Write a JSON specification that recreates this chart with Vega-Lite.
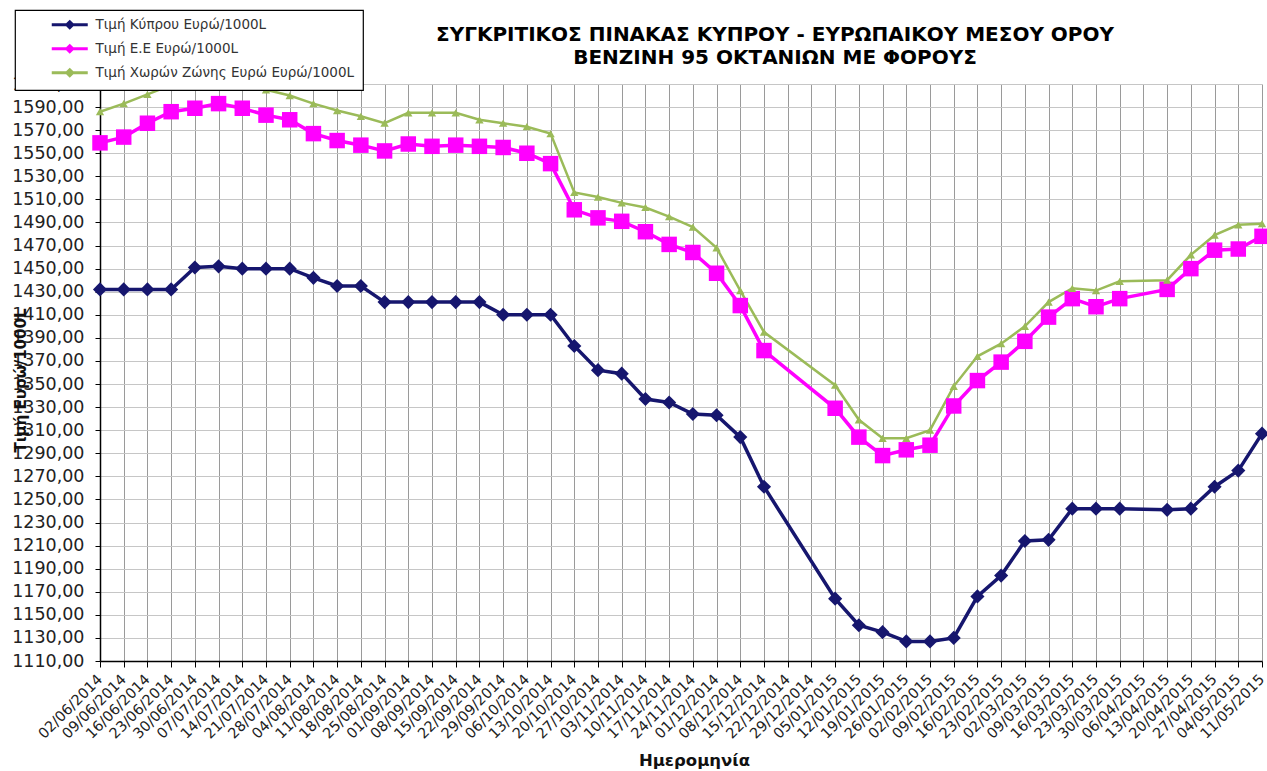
{
  "$schema": "https://vega.github.io/schema/vega-lite/v6.json",
  "width": 1162,
  "height": 577,
  "autosize": {"type": "none"},
  "padding": {"left": 100, "top": 84, "right": 5, "bottom": 110},
  "background": "white",
  "config": {"view": {"stroke": null}, "font": "DejaVu Sans"},
  "title": {
    "text": "ΣΥΓΚΡΙΤΙΚΟΣ ΠΙΝΑΚΑΣ ΚΥΠΡΟΥ - ΕΥΡΩΠΑΙΚΟΥ ΜΕΣΟΥ ΟΡΟΥ",
    "subtitle": "ΒΕΝΖΙΝΗ 95 ΟΚΤΑΝΙΩΝ ΜΕ ΦΟΡΟΥΣ",
    "anchor": "middle",
    "frame": "group",
    "dx": 94,
    "dy": 77,
    "offset": 18,
    "font": "DejaVu Sans",
    "fontSize": 20,
    "fontWeight": "bold",
    "color": "#000000",
    "subtitleFont": "DejaVu Sans",
    "subtitleFontSize": 20,
    "subtitleFontWeight": "bold",
    "subtitleColor": "#000000",
    "subtitlePadding": 3
  },
  "data": {
    "values": [
      {"date": "2014-06-02", "series": "Τιμή Κύπρου Ευρώ/1000L", "value": 1432},
      {"date": "2014-06-09", "series": "Τιμή Κύπρου Ευρώ/1000L", "value": 1432},
      {"date": "2014-06-16", "series": "Τιμή Κύπρου Ευρώ/1000L", "value": 1432},
      {"date": "2014-06-23", "series": "Τιμή Κύπρου Ευρώ/1000L", "value": 1432},
      {"date": "2014-06-30", "series": "Τιμή Κύπρου Ευρώ/1000L", "value": 1451},
      {"date": "2014-07-07", "series": "Τιμή Κύπρου Ευρώ/1000L", "value": 1452},
      {"date": "2014-07-14", "series": "Τιμή Κύπρου Ευρώ/1000L", "value": 1450},
      {"date": "2014-07-21", "series": "Τιμή Κύπρου Ευρώ/1000L", "value": 1450},
      {"date": "2014-07-28", "series": "Τιμή Κύπρου Ευρώ/1000L", "value": 1450},
      {"date": "2014-08-04", "series": "Τιμή Κύπρου Ευρώ/1000L", "value": 1442},
      {"date": "2014-08-11", "series": "Τιμή Κύπρου Ευρώ/1000L", "value": 1435},
      {"date": "2014-08-18", "series": "Τιμή Κύπρου Ευρώ/1000L", "value": 1435},
      {"date": "2014-08-25", "series": "Τιμή Κύπρου Ευρώ/1000L", "value": 1421},
      {"date": "2014-09-01", "series": "Τιμή Κύπρου Ευρώ/1000L", "value": 1421},
      {"date": "2014-09-08", "series": "Τιμή Κύπρου Ευρώ/1000L", "value": 1421},
      {"date": "2014-09-15", "series": "Τιμή Κύπρου Ευρώ/1000L", "value": 1421},
      {"date": "2014-09-22", "series": "Τιμή Κύπρου Ευρώ/1000L", "value": 1421},
      {"date": "2014-09-29", "series": "Τιμή Κύπρου Ευρώ/1000L", "value": 1410},
      {"date": "2014-10-06", "series": "Τιμή Κύπρου Ευρώ/1000L", "value": 1410},
      {"date": "2014-10-13", "series": "Τιμή Κύπρου Ευρώ/1000L", "value": 1410},
      {"date": "2014-10-20", "series": "Τιμή Κύπρου Ευρώ/1000L", "value": 1383},
      {"date": "2014-10-27", "series": "Τιμή Κύπρου Ευρώ/1000L", "value": 1362},
      {"date": "2014-11-03", "series": "Τιμή Κύπρου Ευρώ/1000L", "value": 1359},
      {"date": "2014-11-10", "series": "Τιμή Κύπρου Ευρώ/1000L", "value": 1337},
      {"date": "2014-11-17", "series": "Τιμή Κύπρου Ευρώ/1000L", "value": 1334},
      {"date": "2014-11-24", "series": "Τιμή Κύπρου Ευρώ/1000L", "value": 1324},
      {"date": "2014-12-01", "series": "Τιμή Κύπρου Ευρώ/1000L", "value": 1323},
      {"date": "2014-12-08", "series": "Τιμή Κύπρου Ευρώ/1000L", "value": 1304},
      {"date": "2014-12-15", "series": "Τιμή Κύπρου Ευρώ/1000L", "value": 1261},
      {"date": "2015-01-05", "series": "Τιμή Κύπρου Ευρώ/1000L", "value": 1164},
      {"date": "2015-01-12", "series": "Τιμή Κύπρου Ευρώ/1000L", "value": 1141},
      {"date": "2015-01-19", "series": "Τιμή Κύπρου Ευρώ/1000L", "value": 1135},
      {"date": "2015-01-26", "series": "Τιμή Κύπρου Ευρώ/1000L", "value": 1127},
      {"date": "2015-02-02", "series": "Τιμή Κύπρου Ευρώ/1000L", "value": 1127},
      {"date": "2015-02-09", "series": "Τιμή Κύπρου Ευρώ/1000L", "value": 1130},
      {"date": "2015-02-16", "series": "Τιμή Κύπρου Ευρώ/1000L", "value": 1166},
      {"date": "2015-02-23", "series": "Τιμή Κύπρου Ευρώ/1000L", "value": 1184},
      {"date": "2015-03-02", "series": "Τιμή Κύπρου Ευρώ/1000L", "value": 1214},
      {"date": "2015-03-09", "series": "Τιμή Κύπρου Ευρώ/1000L", "value": 1215},
      {"date": "2015-03-16", "series": "Τιμή Κύπρου Ευρώ/1000L", "value": 1242},
      {"date": "2015-03-23", "series": "Τιμή Κύπρου Ευρώ/1000L", "value": 1242},
      {"date": "2015-03-30", "series": "Τιμή Κύπρου Ευρώ/1000L", "value": 1242},
      {"date": "2015-04-13", "series": "Τιμή Κύπρου Ευρώ/1000L", "value": 1241},
      {"date": "2015-04-20", "series": "Τιμή Κύπρου Ευρώ/1000L", "value": 1242},
      {"date": "2015-04-27", "series": "Τιμή Κύπρου Ευρώ/1000L", "value": 1261},
      {"date": "2015-05-04", "series": "Τιμή Κύπρου Ευρώ/1000L", "value": 1275},
      {"date": "2015-05-11", "series": "Τιμή Κύπρου Ευρώ/1000L", "value": 1307},
      {"date": "2014-06-02", "series": "Τιμή Ε.Ε Ευρώ/1000L", "value": 1559},
      {"date": "2014-06-09", "series": "Τιμή Ε.Ε Ευρώ/1000L", "value": 1564},
      {"date": "2014-06-16", "series": "Τιμή Ε.Ε Ευρώ/1000L", "value": 1576},
      {"date": "2014-06-23", "series": "Τιμή Ε.Ε Ευρώ/1000L", "value": 1586},
      {"date": "2014-06-30", "series": "Τιμή Ε.Ε Ευρώ/1000L", "value": 1589},
      {"date": "2014-07-07", "series": "Τιμή Ε.Ε Ευρώ/1000L", "value": 1593},
      {"date": "2014-07-14", "series": "Τιμή Ε.Ε Ευρώ/1000L", "value": 1589},
      {"date": "2014-07-21", "series": "Τιμή Ε.Ε Ευρώ/1000L", "value": 1583},
      {"date": "2014-07-28", "series": "Τιμή Ε.Ε Ευρώ/1000L", "value": 1579},
      {"date": "2014-08-04", "series": "Τιμή Ε.Ε Ευρώ/1000L", "value": 1567},
      {"date": "2014-08-11", "series": "Τιμή Ε.Ε Ευρώ/1000L", "value": 1561},
      {"date": "2014-08-18", "series": "Τιμή Ε.Ε Ευρώ/1000L", "value": 1557},
      {"date": "2014-08-25", "series": "Τιμή Ε.Ε Ευρώ/1000L", "value": 1552},
      {"date": "2014-09-01", "series": "Τιμή Ε.Ε Ευρώ/1000L", "value": 1558},
      {"date": "2014-09-08", "series": "Τιμή Ε.Ε Ευρώ/1000L", "value": 1556},
      {"date": "2014-09-15", "series": "Τιμή Ε.Ε Ευρώ/1000L", "value": 1557},
      {"date": "2014-09-22", "series": "Τιμή Ε.Ε Ευρώ/1000L", "value": 1556},
      {"date": "2014-09-29", "series": "Τιμή Ε.Ε Ευρώ/1000L", "value": 1555},
      {"date": "2014-10-06", "series": "Τιμή Ε.Ε Ευρώ/1000L", "value": 1550},
      {"date": "2014-10-13", "series": "Τιμή Ε.Ε Ευρώ/1000L", "value": 1541},
      {"date": "2014-10-20", "series": "Τιμή Ε.Ε Ευρώ/1000L", "value": 1501},
      {"date": "2014-10-27", "series": "Τιμή Ε.Ε Ευρώ/1000L", "value": 1494},
      {"date": "2014-11-03", "series": "Τιμή Ε.Ε Ευρώ/1000L", "value": 1491},
      {"date": "2014-11-10", "series": "Τιμή Ε.Ε Ευρώ/1000L", "value": 1482},
      {"date": "2014-11-17", "series": "Τιμή Ε.Ε Ευρώ/1000L", "value": 1471},
      {"date": "2014-11-24", "series": "Τιμή Ε.Ε Ευρώ/1000L", "value": 1464},
      {"date": "2014-12-01", "series": "Τιμή Ε.Ε Ευρώ/1000L", "value": 1446},
      {"date": "2014-12-08", "series": "Τιμή Ε.Ε Ευρώ/1000L", "value": 1418},
      {"date": "2014-12-15", "series": "Τιμή Ε.Ε Ευρώ/1000L", "value": 1379},
      {"date": "2015-01-05", "series": "Τιμή Ε.Ε Ευρώ/1000L", "value": 1329},
      {"date": "2015-01-12", "series": "Τιμή Ε.Ε Ευρώ/1000L", "value": 1304},
      {"date": "2015-01-19", "series": "Τιμή Ε.Ε Ευρώ/1000L", "value": 1288},
      {"date": "2015-01-26", "series": "Τιμή Ε.Ε Ευρώ/1000L", "value": 1293},
      {"date": "2015-02-02", "series": "Τιμή Ε.Ε Ευρώ/1000L", "value": 1297},
      {"date": "2015-02-09", "series": "Τιμή Ε.Ε Ευρώ/1000L", "value": 1331},
      {"date": "2015-02-16", "series": "Τιμή Ε.Ε Ευρώ/1000L", "value": 1353},
      {"date": "2015-02-23", "series": "Τιμή Ε.Ε Ευρώ/1000L", "value": 1369},
      {"date": "2015-03-02", "series": "Τιμή Ε.Ε Ευρώ/1000L", "value": 1387},
      {"date": "2015-03-09", "series": "Τιμή Ε.Ε Ευρώ/1000L", "value": 1408},
      {"date": "2015-03-16", "series": "Τιμή Ε.Ε Ευρώ/1000L", "value": 1424},
      {"date": "2015-03-23", "series": "Τιμή Ε.Ε Ευρώ/1000L", "value": 1417},
      {"date": "2015-03-30", "series": "Τιμή Ε.Ε Ευρώ/1000L", "value": 1424},
      {"date": "2015-04-13", "series": "Τιμή Ε.Ε Ευρώ/1000L", "value": 1432},
      {"date": "2015-04-20", "series": "Τιμή Ε.Ε Ευρώ/1000L", "value": 1450},
      {"date": "2015-04-27", "series": "Τιμή Ε.Ε Ευρώ/1000L", "value": 1466},
      {"date": "2015-05-04", "series": "Τιμή Ε.Ε Ευρώ/1000L", "value": 1467},
      {"date": "2015-05-11", "series": "Τιμή Ε.Ε Ευρώ/1000L", "value": 1478},
      {"date": "2014-06-02", "series": "Τιμή Χωρών Ζώνης Ευρώ Ευρώ/1000L", "value": 1586},
      {"date": "2014-06-09", "series": "Τιμή Χωρών Ζώνης Ευρώ Ευρώ/1000L", "value": 1593},
      {"date": "2014-06-16", "series": "Τιμή Χωρών Ζώνης Ευρώ Ευρώ/1000L", "value": 1601},
      {"date": "2014-06-23", "series": "Τιμή Χωρών Ζώνης Ευρώ Ευρώ/1000L", "value": 1609},
      {"date": "2014-06-30", "series": "Τιμή Χωρών Ζώνης Ευρώ Ευρώ/1000L", "value": 1612},
      {"date": "2014-07-07", "series": "Τιμή Χωρών Ζώνης Ευρώ Ευρώ/1000L", "value": 1614},
      {"date": "2014-07-14", "series": "Τιμή Χωρών Ζώνης Ευρώ Ευρώ/1000L", "value": 1610},
      {"date": "2014-07-21", "series": "Τιμή Χωρών Ζώνης Ευρώ Ευρώ/1000L", "value": 1605},
      {"date": "2014-07-28", "series": "Τιμή Χωρών Ζώνης Ευρώ Ευρώ/1000L", "value": 1600},
      {"date": "2014-08-04", "series": "Τιμή Χωρών Ζώνης Ευρώ Ευρώ/1000L", "value": 1593},
      {"date": "2014-08-11", "series": "Τιμή Χωρών Ζώνης Ευρώ Ευρώ/1000L", "value": 1587},
      {"date": "2014-08-18", "series": "Τιμή Χωρών Ζώνης Ευρώ Ευρώ/1000L", "value": 1582},
      {"date": "2014-08-25", "series": "Τιμή Χωρών Ζώνης Ευρώ Ευρώ/1000L", "value": 1576},
      {"date": "2014-09-01", "series": "Τιμή Χωρών Ζώνης Ευρώ Ευρώ/1000L", "value": 1585},
      {"date": "2014-09-08", "series": "Τιμή Χωρών Ζώνης Ευρώ Ευρώ/1000L", "value": 1585},
      {"date": "2014-09-15", "series": "Τιμή Χωρών Ζώνης Ευρώ Ευρώ/1000L", "value": 1585},
      {"date": "2014-09-22", "series": "Τιμή Χωρών Ζώνης Ευρώ Ευρώ/1000L", "value": 1579},
      {"date": "2014-09-29", "series": "Τιμή Χωρών Ζώνης Ευρώ Ευρώ/1000L", "value": 1576},
      {"date": "2014-10-06", "series": "Τιμή Χωρών Ζώνης Ευρώ Ευρώ/1000L", "value": 1573},
      {"date": "2014-10-13", "series": "Τιμή Χωρών Ζώνης Ευρώ Ευρώ/1000L", "value": 1567},
      {"date": "2014-10-20", "series": "Τιμή Χωρών Ζώνης Ευρώ Ευρώ/1000L", "value": 1516},
      {"date": "2014-10-27", "series": "Τιμή Χωρών Ζώνης Ευρώ Ευρώ/1000L", "value": 1512},
      {"date": "2014-11-03", "series": "Τιμή Χωρών Ζώνης Ευρώ Ευρώ/1000L", "value": 1507},
      {"date": "2014-11-10", "series": "Τιμή Χωρών Ζώνης Ευρώ Ευρώ/1000L", "value": 1503},
      {"date": "2014-11-17", "series": "Τιμή Χωρών Ζώνης Ευρώ Ευρώ/1000L", "value": 1495},
      {"date": "2014-11-24", "series": "Τιμή Χωρών Ζώνης Ευρώ Ευρώ/1000L", "value": 1486},
      {"date": "2014-12-01", "series": "Τιμή Χωρών Ζώνης Ευρώ Ευρώ/1000L", "value": 1468},
      {"date": "2014-12-08", "series": "Τιμή Χωρών Ζώνης Ευρώ Ευρώ/1000L", "value": 1431},
      {"date": "2014-12-15", "series": "Τιμή Χωρών Ζώνης Ευρώ Ευρώ/1000L", "value": 1395},
      {"date": "2015-01-05", "series": "Τιμή Χωρών Ζώνης Ευρώ Ευρώ/1000L", "value": 1349},
      {"date": "2015-01-12", "series": "Τιμή Χωρών Ζώνης Ευρώ Ευρώ/1000L", "value": 1319},
      {"date": "2015-01-19", "series": "Τιμή Χωρών Ζώνης Ευρώ Ευρώ/1000L", "value": 1303},
      {"date": "2015-01-26", "series": "Τιμή Χωρών Ζώνης Ευρώ Ευρώ/1000L", "value": 1303},
      {"date": "2015-02-02", "series": "Τιμή Χωρών Ζώνης Ευρώ Ευρώ/1000L", "value": 1310},
      {"date": "2015-02-09", "series": "Τιμή Χωρών Ζώνης Ευρώ Ευρώ/1000L", "value": 1348},
      {"date": "2015-02-16", "series": "Τιμή Χωρών Ζώνης Ευρώ Ευρώ/1000L", "value": 1374},
      {"date": "2015-02-23", "series": "Τιμή Χωρών Ζώνης Ευρώ Ευρώ/1000L", "value": 1385},
      {"date": "2015-03-02", "series": "Τιμή Χωρών Ζώνης Ευρώ Ευρώ/1000L", "value": 1400},
      {"date": "2015-03-09", "series": "Τιμή Χωρών Ζώνης Ευρώ Ευρώ/1000L", "value": 1421},
      {"date": "2015-03-16", "series": "Τιμή Χωρών Ζώνης Ευρώ Ευρώ/1000L", "value": 1433},
      {"date": "2015-03-23", "series": "Τιμή Χωρών Ζώνης Ευρώ Ευρώ/1000L", "value": 1431},
      {"date": "2015-03-30", "series": "Τιμή Χωρών Ζώνης Ευρώ Ευρώ/1000L", "value": 1439},
      {"date": "2015-04-13", "series": "Τιμή Χωρών Ζώνης Ευρώ Ευρώ/1000L", "value": 1440},
      {"date": "2015-04-20", "series": "Τιμή Χωρών Ζώνης Ευρώ Ευρώ/1000L", "value": 1462},
      {"date": "2015-04-27", "series": "Τιμή Χωρών Ζώνης Ευρώ Ευρώ/1000L", "value": 1479},
      {"date": "2015-05-04", "series": "Τιμή Χωρών Ζώνης Ευρώ Ευρώ/1000L", "value": 1488},
      {"date": "2015-05-11", "series": "Τιμή Χωρών Ζώνης Ευρώ Ευρώ/1000L", "value": 1489}
    ]
  },
  "encoding": {
    "x": {
      "field": "date",
      "type": "temporal",
      "scale": {
        "type": "utc",
        "nice": false,
        "domain": [
          {"year": 2014, "month": 6, "date": 2, "utc": true},
          {"year": 2015, "month": 5, "date": 11, "utc": true}
        ]
      },
      "axis": {
        "title": "Ημερομηνία",
        "titleFont": "DejaVu Sans",
        "titleFontSize": 16.5,
        "titleFontWeight": "bold",
        "titleColor": "#111111",
        "titleX": 594,
        "titleY": 99,
        "titleAlign": "center",
        "titleBaseline": "middle",
        "values": [
          {"year": 2014, "month": 6, "date": 2, "utc": true},
          {"year": 2014, "month": 6, "date": 9, "utc": true},
          {"year": 2014, "month": 6, "date": 16, "utc": true},
          {"year": 2014, "month": 6, "date": 23, "utc": true},
          {"year": 2014, "month": 6, "date": 30, "utc": true},
          {"year": 2014, "month": 7, "date": 7, "utc": true},
          {"year": 2014, "month": 7, "date": 14, "utc": true},
          {"year": 2014, "month": 7, "date": 21, "utc": true},
          {"year": 2014, "month": 7, "date": 28, "utc": true},
          {"year": 2014, "month": 8, "date": 4, "utc": true},
          {"year": 2014, "month": 8, "date": 11, "utc": true},
          {"year": 2014, "month": 8, "date": 18, "utc": true},
          {"year": 2014, "month": 8, "date": 25, "utc": true},
          {"year": 2014, "month": 9, "date": 1, "utc": true},
          {"year": 2014, "month": 9, "date": 8, "utc": true},
          {"year": 2014, "month": 9, "date": 15, "utc": true},
          {"year": 2014, "month": 9, "date": 22, "utc": true},
          {"year": 2014, "month": 9, "date": 29, "utc": true},
          {"year": 2014, "month": 10, "date": 6, "utc": true},
          {"year": 2014, "month": 10, "date": 13, "utc": true},
          {"year": 2014, "month": 10, "date": 20, "utc": true},
          {"year": 2014, "month": 10, "date": 27, "utc": true},
          {"year": 2014, "month": 11, "date": 3, "utc": true},
          {"year": 2014, "month": 11, "date": 10, "utc": true},
          {"year": 2014, "month": 11, "date": 17, "utc": true},
          {"year": 2014, "month": 11, "date": 24, "utc": true},
          {"year": 2014, "month": 12, "date": 1, "utc": true},
          {"year": 2014, "month": 12, "date": 8, "utc": true},
          {"year": 2014, "month": 12, "date": 15, "utc": true},
          {"year": 2014, "month": 12, "date": 22, "utc": true},
          {"year": 2014, "month": 12, "date": 29, "utc": true},
          {"year": 2015, "month": 1, "date": 5, "utc": true},
          {"year": 2015, "month": 1, "date": 12, "utc": true},
          {"year": 2015, "month": 1, "date": 19, "utc": true},
          {"year": 2015, "month": 1, "date": 26, "utc": true},
          {"year": 2015, "month": 2, "date": 2, "utc": true},
          {"year": 2015, "month": 2, "date": 9, "utc": true},
          {"year": 2015, "month": 2, "date": 16, "utc": true},
          {"year": 2015, "month": 2, "date": 23, "utc": true},
          {"year": 2015, "month": 3, "date": 2, "utc": true},
          {"year": 2015, "month": 3, "date": 9, "utc": true},
          {"year": 2015, "month": 3, "date": 16, "utc": true},
          {"year": 2015, "month": 3, "date": 23, "utc": true},
          {"year": 2015, "month": 3, "date": 30, "utc": true},
          {"year": 2015, "month": 4, "date": 6, "utc": true},
          {"year": 2015, "month": 4, "date": 13, "utc": true},
          {"year": 2015, "month": 4, "date": 20, "utc": true},
          {"year": 2015, "month": 4, "date": 27, "utc": true},
          {"year": 2015, "month": 5, "date": 4, "utc": true},
          {"year": 2015, "month": 5, "date": 11, "utc": true}
        ],
        "labelExpr": "utcFormat(datum.value, '%d/%m/%Y')",
        "labelAngle": -45,
        "labelAlign": "right",
        "labelBaseline": "middle",
        "labelFont": "DejaVu Sans",
        "labelFontSize": 14.5,
        "labelColor": "#222222",
        "labelOverlap": false,
        "labelFlush": false,
        "labelPadding": 10,
        "labelDx": -6,
        "tickSize": 6,
        "tickColor": "#000000",
        "domainColor": "#000000",
        "domainWidth": 1.5,
        "grid": true,
        "gridColor": "#9a9a9a",
        "gridWidth": 1
      }
    },
    "y": {
      "field": "value",
      "type": "quantitative",
      "scale": {"domain": [1110, 1610], "nice": false, "zero": false},
      "axis": {
        "title": "Τιμή Ευρώ/1000L",
        "titleFont": "DejaVu Sans",
        "titleFontSize": 15,
        "titleFontWeight": "bold",
        "titleColor": "#111111",
        "titleX": -72,
        "titleY": 296,
        "titleAngle": -90,
        "titleAlign": "center",
        "titleBaseline": "bottom",
        "values": [1110, 1130, 1150, 1170, 1190, 1210, 1230, 1250, 1270, 1290, 1310, 1330, 1350, 1370, 1390, 1410, 1430, 1450, 1470, 1490, 1510, 1530, 1550, 1570, 1590, 1610],
        "labelExpr": "replace(format(datum.value, '.2f'), '.', ',')",
        "labelFont": "DejaVu Sans",
        "labelFontSize": 17.5,
        "labelColor": "#222222",
        "labelPadding": 11,
        "tickSize": 5,
        "tickColor": "#000000",
        "domainColor": "#000000",
        "domainWidth": 1.5,
        "grid": true,
        "gridColor": "#c6c6c6",
        "gridWidth": 1
      }
    }
  },
  "layer": [
    {
      "mark": {"type": "line"},
      "encoding": {
        "color": {
          "field": "series",
          "type": "nominal",
          "scale": {
            "domain": ["Τιμή Κύπρου Ευρώ/1000L", "Τιμή Ε.Ε Ευρώ/1000L", "Τιμή Χωρών Ζώνης Ευρώ Ευρώ/1000L"],
            "range": ["#16166e", "#ff00ff", "#9bbb59"]
          },
          "legend": {
            "title": null,
            "orient": "none",
            "legendX": -85,
            "legendY": -74,
            "direction": "vertical",
            "fillColor": "#ffffff",
            "strokeColor": "#000000",
            "padding": 8,
            "rowPadding": 5,
            "symbolType": "M-3.6,0H3.6M0,-0.6L0.6,0L0,0.6L-0.6,0Z",
            "symbolSize": 100,
            "symbolStrokeWidth": 3,
            "symbolOffset": 40,
            "symbolOpacity": 1,
            "labelFont": "DejaVu Sans",
            "labelFontSize": 13.5,
            "labelColor": "#333333",
            "labelOffset": 19,
            "labelLimit": 400,
            "encode": {
              "legend": {"update": {"strokeWidth": {"value": 1.2}}}
            }
          }
        },
        "strokeWidth": {
          "condition": {"test": "datum.series === 'Τιμή Χωρών Ζώνης Ευρώ Ευρώ/1000L'", "value": 2.5},
          "value": 3.5
        }
      }
    },
    {
      "transform": [{"filter": "datum.series === 'Τιμή Κύπρου Ευρώ/1000L'"}],
      "mark": {"type": "point", "filled": true, "opacity": 1, "shape": "diamond", "size": 200, "color": "#16166e"}
    },
    {
      "transform": [{"filter": "datum.series === 'Τιμή Ε.Ε Ευρώ/1000L'"}],
      "mark": {"type": "point", "filled": true, "opacity": 1, "shape": "square", "size": 240, "color": "#ff00ff"}
    },
    {
      "transform": [{"filter": "datum.series === 'Τιμή Χωρών Ζώνης Ευρώ Ευρώ/1000L'"}],
      "mark": {"type": "point", "filled": true, "opacity": 1, "shape": "triangle-up", "size": 70, "color": "#9bbb59"}
    }
  ]
}
